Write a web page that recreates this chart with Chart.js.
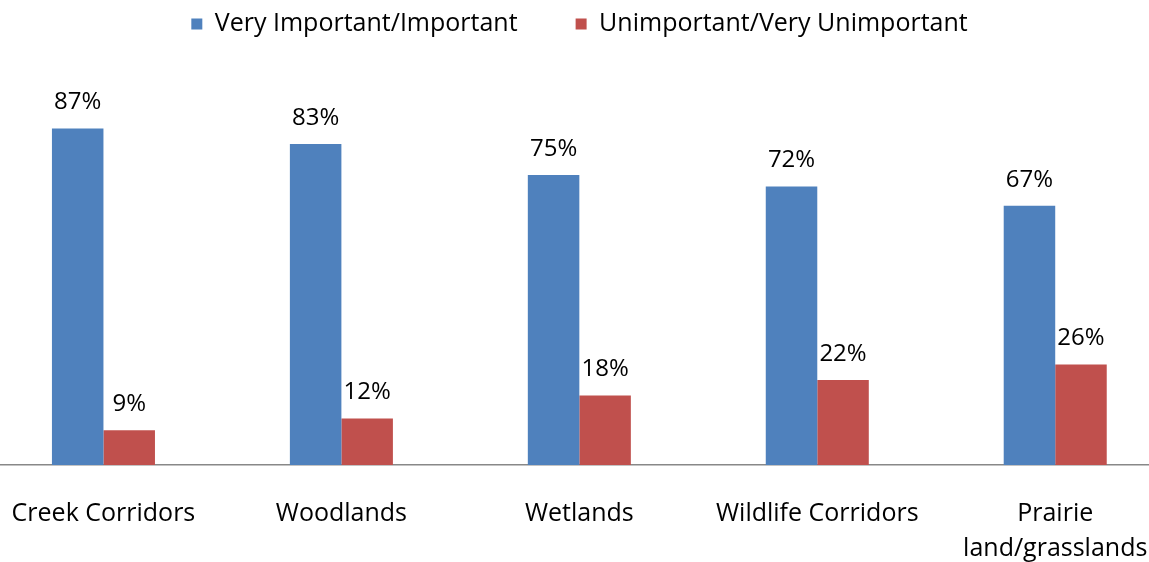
<!DOCTYPE html>
<html>
<head>
<meta charset="utf-8">
<script src="https://cdn.jsdelivr.net/npm/chart.js@4/dist/chart.umd.min.js"></script>
<style>
  html, body {margin: 0; padding: 0; background: #fff; overflow: hidden;}
  #wrap {position: absolute; left: -19px; top: 0; width: 1197px; height: 562px;}
</style>
</head>
<body>
<div id="wrap"><canvas id="chart"></canvas></div>
<script>
const categories = [
  'Creek Corridors',
  'Woodlands',
  'Wetlands',
  'Wildlife Corridors',
  ['Prairie', 'land/grasslands'],
];
const important = [87, 83, 75, 72, 67];
const unimportant = [9, 12, 18, 22, 26];
const seriesNames = ['Very Important/Important', 'Unimportant/Very Unimportant'];
const colours = ['#4F81BD', '#C0504D'];

const fontFamily = '"Open Sans", "Noto Sans", sans-serif';
// hidden value axis; leaves the headroom the original plot area had
const yMax = 108.2;

// draws the percentage above every bar
const barLabels = {
  id: 'barLabels',
  afterDatasetsDraw(chart) {
    const ctx = chart.ctx;
    ctx.save();
    ctx.font = '24px ' + fontFamily;
    ctx.fillStyle = '#000';
    ctx.textAlign = 'center';
    ctx.textBaseline = 'middle';
    chart.data.datasets.forEach((ds, i) => {
      chart.getDatasetMeta(i).data.forEach((bar, j) => {
        ctx.fillText(ds.data[j] + '%', bar.x, bar.y - 26);
      });
    });
    ctx.restore();
  },
};

new Chart('chart', {
  type: 'bar',
  data: {
    labels: categories,
    datasets: [
      {label: seriesNames[0], data: important, backgroundColor: colours[0]},
      {label: seriesNames[1], data: unimportant, backgroundColor: colours[1]},
    ],
  },
  options: {
    responsive: true,
    maintainAspectRatio: false,
    animation: false,
    layout: {padding: {top: -46.5, bottom: -35, left: 0, right: 0}},
    datasets: {bar: {categoryPercentage: 0.433, barPercentage: 1}},
    plugins: {
      legend: {
        position: 'top',
        labels: {
          boxWidth: 11,
          boxHeight: 11,
          padding: 58,
          color: '#000',
          font: {family: fontFamily, size: 25},
        },
      },
      tooltip: {enabled: false},
    },
    scales: {
      x: {
        grid: {display: false, drawTicks: false},
        border: {display: true, color: '#888', width: 1.5},
        ticks: {
          color: '#000',
          padding: 31,
          maxRotation: 0,
          autoSkip: false,
          font: {family: fontFamily, size: 25, lineHeight: 1.4},
        },
      },
      y: {
        display: false,
        min: 0,
        max: yMax,
      },
    },
  },
  plugins: [barLabels],
});
</script>
</body>
</html>
